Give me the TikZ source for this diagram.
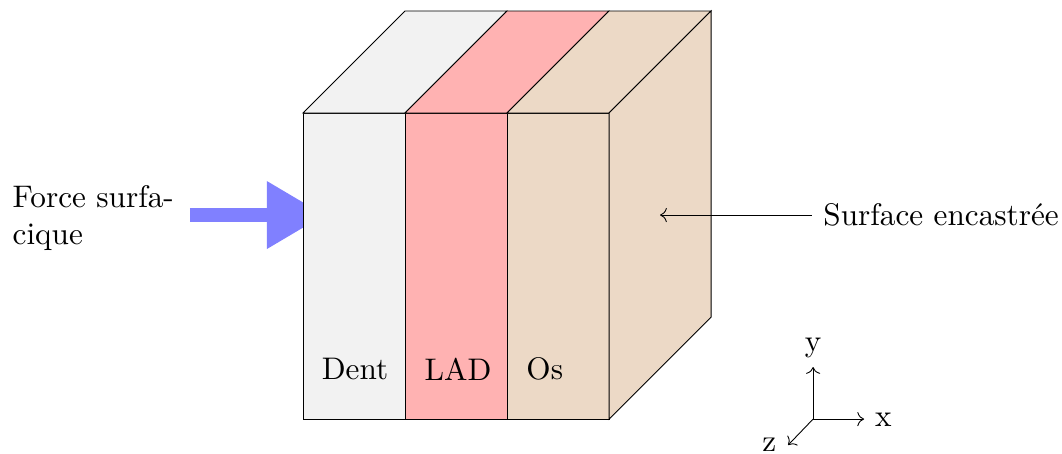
\documentclass[tikz,border=0pt]{standalone}
\usepackage[utf8]{inputenc}
\usepackage{xcolor}
\usepackage{tikz}
\usetikzlibrary{arrows.meta,positioning}

\begin{document}
\begin{tikzpicture}[x=1.2cm,y=1.2cm,
    font=\fontsize{10.45}{12.5}\selectfont,
    every path/.style={line width=0.3pt},
    axis/.style={->},
    force/.style={-{Triangle[length=19.5pt,width=21.5pt]},line width=4.4pt,blue!50},
    layerlabel/.style={inner sep=0pt}]

  \useasboundingbox (-2.97,-0.333) rectangle (7.44,4.108);

  \node[align=left, inner sep=0pt, anchor=west] (force) at (-2.85,1.97) {Force surfa-\\cique};
  \coordinate (forcestart) at (-1.108,2);
  \coordinate (forcetip) at (0.216,2);
  \draw[force] (forcestart) -- (forcetip);

  % faces
  \draw[fill=gray!10] (0,0) rectangle (1,3);
  \draw[fill=red!30] (1,0) rectangle (2,3);
  \draw[fill=brown!30] (2,0) rectangle (3,3);
  \draw[fill=gray!10] (0,3) -- (1,4) -- (2,4) -- (1,3) -- cycle;
  \draw[fill=red!30] (1,3) -- (2,4) -- (3,4) -- (2,3) -- cycle;
  \draw[fill=brown!30] (2,3) -- (3,4) -- (4,4) -- (3,3) -- cycle;
  \draw[fill=brown!30] (3,0) -- (4,1) -- (4,4) -- (3,3) -- cycle;

  \node[layerlabel] (dent) at (0.51,0.49) {Dent};
  \node[layerlabel] (lad) at (1.52,0.49) {LAD};
  \node[layerlabel] (os) at (2.37,0.49) {Os};

  \node[inner sep=0pt] (surface) at (6.255,2) {Surface encastrée};
  \coordinate (surfacetip) at (3.5,2);
  \draw[axis] ([xshift=-3.7pt]surface.west) -- (surfacetip);

  \coordinate (origin) at (5,0);
  \coordinate (xtip) at (5.5,0);
  \coordinate (ytip) at (5,0.51);
  \coordinate (ztip) at (4.755,-0.255);
  \node[inner sep=0pt] (x) at (5.69,-0.01) {x};
  \node[inner sep=0pt] (y) at (5,0.7) {y};
  \node[inner sep=0pt] (z) at (4.57,-0.25) {z};
  \draw[axis] (origin) -- (xtip);
  \draw[axis] (origin) -- (ytip);
  \draw[axis] (origin) -- (ztip);

\end{tikzpicture}
\end{document}
